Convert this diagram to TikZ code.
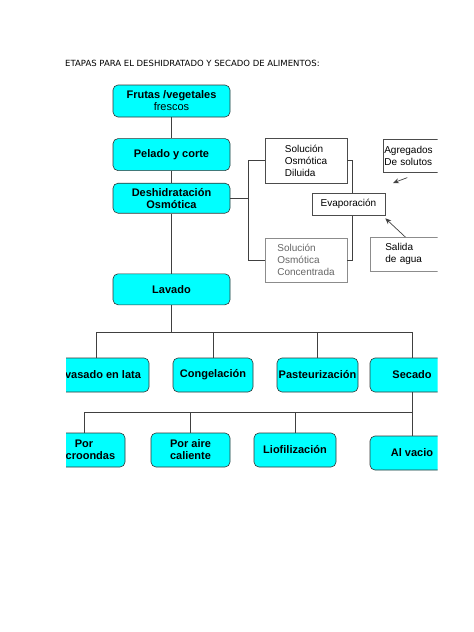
\documentclass[tikz,border=0pt]{standalone}
\usepackage{fontspec}
\setmainfont{Liberation Sans}
\newfontfamily\titlefont{DejaVu Sans}
\usetikzlibrary{arrows.meta,positioning}
\definecolor{boxcyan}{HTML}{00FFFF}

\begin{document}
\begin{tikzpicture}[
  x=1pt,y=-1pt,
  stage/.style={draw=black!80,fill=boxcyan,rounded corners=5pt,align=center,inner sep=1pt,
    minimum height=34pt,line width=0.6pt,font=\fontsize{11}{12}\selectfont\bfseries},
  sol/.style={draw=black!70,fill=white,align=left,inner sep=1pt,line width=0.6pt,
    font=\fontsize{10}{12}\selectfont},
  link/.style={draw=black!75,line width=0.7pt},
]
\useasboundingbox (0,0) rectangle (474,632);
\node[anchor=west,inner sep=0pt,font=\titlefont\fontsize{8.5}{10}\selectfont] (title) at (65,63)
  {ETAPAS PARA EL DESHIDRATADO Y SECADO DE ALIMENTOS:};
\begin{scope}
\clip (66,0) rectangle (437.5,632);
% main column
\node[stage,minimum width=117pt,minimum height=32pt] (fru) at (171.5,101) {Frutas /vegetales\\\mdseries frescos};
\node[stage,minimum width=117pt,minimum height=32pt,below=21pt of fru] (pel) {Pelado y corte};
\node[stage,minimum width=117pt,minimum height=30pt,below=12pt of pel] (des) {Deshidratación\\Osmótica};
\node[stage,minimum width=117pt,minimum height=31pt,below=60pt of des] (lav) {Lavado};
% osmotic loop
\node[sol,minimum width=82pt,minimum height=45pt] (dil) at (306,160.5) {Solución\\Osmótica\\Diluida};
\node[sol,draw=black!45,text=black!60,minimum width=82pt,minimum height=44pt] (conc) at (306,260) {Solución\\Osmótica\\Concentrada};
\draw[link] (dil.east) -- ++(5,0) |- (conc.east);
\node[sol,align=center,minimum width=73pt,minimum height=22pt] (eva) at (348.5,204) {Evaporación};
\node[sol,anchor=north west,text width=58pt,minimum height=33pt] (agr) at (383,139) {Agregados\\De solutos};
\node[sol,draw=black!45,anchor=north west,text width=50pt,inner xsep=15pt,minimum height=34pt] (sal) at (370,237) {Salida\\de agua};
% second row
\node[stage,minimum width=106pt] (env) at (96,375) {Envasado en lata};
\node[stage,minimum width=80pt] (con) at (213,375) {Congelación};
\node[stage,minimum width=81pt] (pas) at (317.5,375) {Pasteurización};
\node[stage,minimum width=84pt] (sec) at (412,375) {Secado};
% drying methods
\node[stage,minimum width=82pt] (mic) at (84,450) {Por\\microondas};
\node[stage,minimum width=79pt] (air) at (190.5,450) {Por aire\\caliente};
\node[stage,minimum width=82pt] (lio) at (295,450) {Liofilización};
\node[stage,minimum width=84pt] (vac) at (412,453) {Al vacio};
% connectors
\draw[link] (fru) -- (pel);
\draw[link] (pel) -- (des);
\draw[link] (des) -- (lav);
\coordinate (osm) at ([xshift=18pt]des.east);
\draw[link] (des.east) -- (osm);
\draw[link] (dil.west) -| (osm) |- (conc.west);
\coordinate (agrtip) at (393,183);
\draw[link,-{Stealth[length=6pt,width=5pt]}] ([xshift=-6pt,yshift=-5pt]agr.south) -- (agrtip);
\draw[link,-{Stealth[length=6pt,width=5pt]}] ([xshift=-5pt]sal.north) -- ([yshift=-3pt]eva.south east);
\coordinate (split) at (171.5,332);
\draw[link] (lav) -- (split);
\foreach \n in {env,con,pas,sec} \draw[link] (\n.north) |- (split);
\coordinate (dry) at (412,412);
\draw[link] (sec) -- (vac);
\foreach \n in {mic,air,lio} \draw[link] (\n.north) |- (dry);
\end{scope}
\end{tikzpicture}
\end{document}
